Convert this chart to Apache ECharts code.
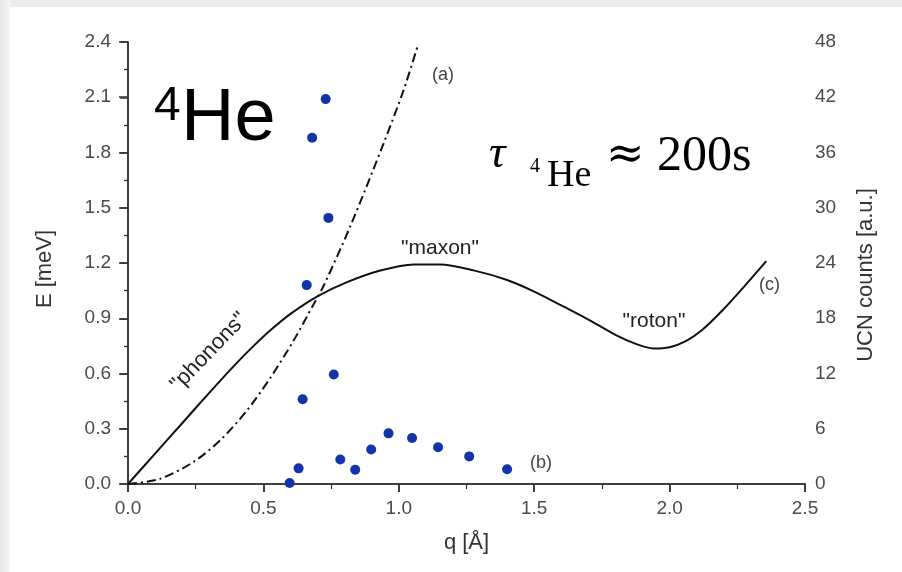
<!DOCTYPE html>
<html>
<head>
<meta charset="utf-8">
<script src="https://cdn.jsdelivr.net/npm/echarts@6/dist/echarts.min.js"></script>
<style>
  html, body { margin: 0; padding: 0; background: #fff; }
  #chart { width: 902px; height: 572px; }
</style>
</head>
<body>
<div id="chart"></div>
<script>
  // (c) dispersion curve of superfluid 4He
  const qDisp = [0, 0.1, 0.2, 0.3, 0.4, 0.464, 0.53, 0.6, 0.698, 0.809, 0.932, 1.055, 1.153, 1.276, 1.40, 1.50, 1.60, 1.70, 1.80, 1.88, 1.94, 2.00, 2.06, 2.12, 2.20, 2.28, 2.357];
  const eDisp = [0, 0.165, 0.33, 0.495, 0.655, 0.75, 0.84, 0.924, 1.018, 1.096, 1.159, 1.192, 1.192, 1.160, 1.108, 1.045, 0.970, 0.893, 0.810, 0.758, 0.736, 0.743, 0.776, 0.836, 0.950, 1.080, 1.21];

  // (a) free neutron curve
  const qFree = [0, 0.118, 0.242, 0.341, 0.439, 0.525, 0.612, 0.685, 0.722, 0.821, 0.944, 1.018, 1.072];
  const eFree = [0, 0.028, 0.120, 0.238, 0.399, 0.575, 0.780, 0.975, 1.075, 1.40, 1.850, 2.14, 2.39];

  // (b) UCN counts
  const qUcn = [0.597, 0.630, 0.645, 0.66, 0.68, 0.73, 0.74, 0.76, 0.784, 0.839, 0.898, 0.962, 1.049, 1.145, 1.26, 1.40];
  const ucnCounts = [0.1, 1.7, 9.2, 21.6, 37.6, 41.8, 28.9, 11.9, 2.66, 1.54, 3.75, 5.5, 5.0, 4.0, 3.0, 1.6];

  const eTicks = { min: 0, max: 2.4, step: 0.3 };
  const countTicks = { min: 0, max: 48, step: 6 };
  const qTicks = { min: 0, max: 2.5, step: 0.5 };

  const pairs = (xs, ys) => xs.map((x, i) => [x, ys[i]]);

  const axisColor = '#333';
  const labelColor = '#4a4a4a';

  const myChart = echarts.init(document.getElementById('chart'));

  const option = {
    animation: false,
    backgroundColor: '#fff',
    grid: { left: 128, right: 97, top: 42, bottom: 88 },
    xAxis: [
      {
        type: 'value',
        position: 'bottom',
        min: qTicks.min, max: qTicks.max, interval: qTicks.step,
        name: 'q [Å]',
        nameLocation: 'middle',
        nameGap: 48,
        nameTextStyle: { fontSize: 22, color: '#333', fontFamily: 'Liberation Sans' },
        axisLine: { lineStyle: { color: axisColor, width: 1.5 } },
        axisTick: { inside: false, length: 8, lineStyle: { color: axisColor, width: 1.5 } },
        minorTick: { show: true, splitNumber: 2, length: 5, lineStyle: { color: axisColor, width: 1.2 } },
        axisLabel: { fontSize: 19, color: labelColor, margin: 15, fontFamily: 'Liberation Sans',
          formatter: v => v.toFixed(1) },
        splitLine: { show: false }
      },
      {
        type: 'value',
        position: 'top',
        min: qTicks.min, max: qTicks.max, interval: qTicks.step,
        axisLine: { lineStyle: { color: axisColor, width: 1.5 } },
        axisTick: { inside: true, length: 8, lineStyle: { color: axisColor, width: 1.5 } },
        axisLabel: { show: false },
        splitLine: { show: false }
      }
    ],
    yAxis: [
      {
        type: 'value',
        position: 'left',
        min: eTicks.min, max: eTicks.max, interval: eTicks.step,
        name: 'E [meV]',
        nameLocation: 'middle',
        nameRotate: 90,
        nameGap: 72,
        nameTextStyle: { fontSize: 22, color: '#333', fontFamily: 'Liberation Sans', padding: [0, 12, 0, 0] },
        axisLine: { show: true, lineStyle: { color: axisColor, width: 1.5 } },
        axisTick: { show: true, inside: false, length: 9, lineStyle: { color: axisColor, width: 1.5 } },
        minorTick: { show: true, splitNumber: 2, length: 4, lineStyle: { color: axisColor, width: 1.2 } },
        axisLabel: { fontSize: 19, color: labelColor, margin: 17, fontFamily: 'Liberation Sans',
          formatter: v => v.toFixed(1) },
        splitLine: { show: false }
      },
      {
        type: 'value',
        position: 'right',
        min: countTicks.min, max: countTicks.max, interval: countTicks.step,
        name: 'UCN counts [a.u.]',
        nameLocation: 'middle',
        nameRotate: 90,
        nameGap: 50,
        nameTextStyle: { fontSize: 22, color: '#333', fontFamily: 'Liberation Sans', padding: [0, 24, 0, 0] },
        axisLine: { show: true, lineStyle: { color: axisColor, width: 1.5 } },
        axisTick: { show: true, inside: true, length: 8, lineStyle: { color: axisColor, width: 1.5 } },
        minorTick: { show: true, splitNumber: 2, length: 4, lineStyle: { color: axisColor, width: 1.2 } },
        axisLabel: { fontSize: 19, color: labelColor, margin: 10, fontFamily: 'Liberation Sans' },
        splitLine: { show: false }
      }
    ],
    series: [
      {
        name: 'dispersion',
        type: 'line',
        xAxisIndex: 0, yAxisIndex: 0,
        smooth: 0.3,
        showSymbol: false,
        data: pairs(qDisp, eDisp),
        lineStyle: { color: '#111', width: 2 }
      },
      {
        name: 'free neutron',
        type: 'line',
        xAxisIndex: 0, yAxisIndex: 0,
        smooth: 0.3,
        showSymbol: false,
        data: pairs(qFree, eFree),
        lineStyle: { color: '#111', width: 2, type: [9, 4, 2, 4] }
      },
      {
        name: 'UCN',
        type: 'scatter',
        xAxisIndex: 0, yAxisIndex: 1,
        symbolSize: 10,
        data: pairs(qUcn, ucnCounts),
        itemStyle: { color: '#1234a8', opacity: 1 }
      }
    ],
    graphic: [
      // light grey frame at top/left edge of the screenshot
      { type: 'rect', z: -10, shape: { x: 0, y: 0, width: 902, height: 7 }, style: { fill: '#ededed' } },
      { type: 'rect', z: -10, shape: { x: 0, y: 0, width: 10, height: 572 },
        style: { fill: new echarts.graphic.LinearGradient(0, 0, 1, 0, [
          { offset: 0, color: '#e6e6e6' }, { offset: 1, color: '#f7f7f7' }]) } },

      // 4He
      { type: 'text', z: 20, style: { text: '4', x: 154, y: 107, fontSize: 48, fontFamily: 'Liberation Sans',
        fill: '#000', textAlign: 'left', textVerticalAlign: 'middle' } },
      { type: 'text', z: 20, style: { text: 'He', x: 181, y: 120, fontSize: 74, fontFamily: 'Liberation Sans',
        fill: '#000', textAlign: 'left', textVerticalAlign: 'middle' } },

      // tau 4He ≈ 200s
      { type: 'text', z: 20, style: { text: 'τ', x: 489, y: 155, fontSize: 46, fontStyle: 'italic',
        fontFamily: 'Liberation Serif', fill: '#000', textAlign: 'left', textVerticalAlign: 'middle' } },
      { type: 'text', z: 20, style: { text: '4', x: 530, y: 167, fontSize: 20,
        fontFamily: 'Liberation Serif', fill: '#000', textAlign: 'left', textVerticalAlign: 'middle' } },
      { type: 'text', z: 20, style: { text: 'He', x: 547, y: 176, fontSize: 38,
        fontFamily: 'Liberation Serif', fill: '#000', textAlign: 'left', textVerticalAlign: 'middle' } },
      { type: 'text', z: 20, style: { text: '≈', x: 606, y: 156, fontSize: 46,
        fontFamily: 'DejaVu Serif', fill: '#000', textAlign: 'left', textVerticalAlign: 'middle' } },
      { type: 'text', z: 20, style: { text: '200s', x: 657, y: 157, fontSize: 50,
        fontFamily: 'Liberation Serif', fill: '#000', textAlign: 'left', textVerticalAlign: 'middle' } },

      // curve labels
      { type: 'text', z: 20, style: { text: '"maxon"', x: 440, y: 248, fontSize: 21, fontFamily: 'Liberation Sans',
        fill: '#222', textAlign: 'center', textVerticalAlign: 'middle' } },
      { type: 'text', z: 20, style: { text: '"roton"', x: 654, y: 321, fontSize: 21, fontFamily: 'Liberation Sans',
        fill: '#222', textAlign: 'center', textVerticalAlign: 'middle' } },
      { type: 'text', z: 20, x: 209, y: 352, rotation: 46 * Math.PI / 180,
        style: { text: '"phonons"', x: 0, y: 0, fontSize: 22, fontFamily: 'Liberation Sans',
        fill: '#222', textAlign: 'center', textVerticalAlign: 'middle' } },
      { type: 'text', z: 20, style: { text: '(a)', x: 432, y: 75, fontSize: 18, fontFamily: 'Liberation Sans',
        fill: '#444', textAlign: 'left', textVerticalAlign: 'middle' } },
      { type: 'text', z: 20, style: { text: '(b)', x: 530, y: 463, fontSize: 18, fontFamily: 'Liberation Sans',
        fill: '#444', textAlign: 'left', textVerticalAlign: 'middle' } },
      { type: 'text', z: 20, style: { text: '(c)', x: 759, y: 285, fontSize: 18, fontFamily: 'Liberation Sans',
        fill: '#444', textAlign: 'left', textVerticalAlign: 'middle' } }
    ]
  };

  myChart.setOption(option);
</script>
</body>
</html>
